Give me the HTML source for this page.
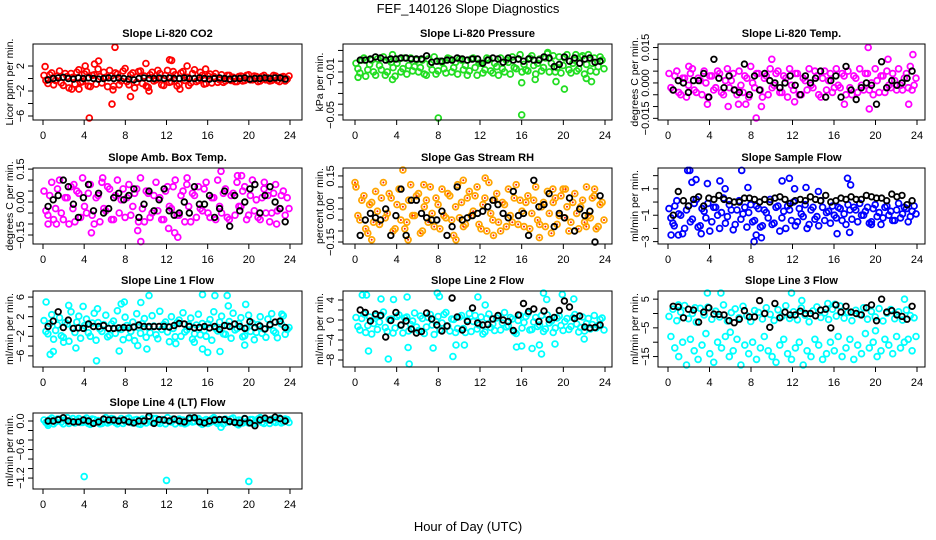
<!DOCTYPE html>
<html><head><meta charset="utf-8"><style>
html,body{margin:0;padding:0;background:#fff;}
svg{display:block;font-family:"Liberation Sans",sans-serif;}
</style></head><body>
<svg id="c" width="936" height="540" viewBox="0 0 936 540" xmlns="http://www.w3.org/2000/svg">
<text x="468" y="13" text-anchor="middle" font-size="13">FEF_140126  Slope Diagnostics</text>
<text x="468" y="531" text-anchor="middle" font-size="13">Hour of Day (UTC)</text>
</svg>
<script>
const xTicks = [0,4,8,12,16,20,24];
const titles = ["Slope Li-820 CO2","Slope Li-820 Pressure","Slope Li-820 Temp.","Slope Amb. Box Temp.","Slope Gas Stream RH","Slope Sample Flow","Slope Line 1 Flow","Slope Line 2 Flow","Slope Line 3 Flow","Slope Line 4 (LT) Flow"];
const yTitles = ["Licor ppm per min.","kPa per min.","degrees C per min.","degrees C per min.","percent per min.","ml/min per min.","ml/min per min.","ml/min per min.","ml/min per min.","ml/min per min."];
const yDomains = [[-6.64,5.52],[-0.0547,0.016],[-0.0157,0.0165],[-0.191,0.155],[-0.159,0.186],[-3.18,2.58],[-8.27,7.24],[-9.4,5.8],[-18.64,7.84],[-1.43,0.168]];
const yTickVals = [[2,0,-2,-4,-6],[0.01,0,-0.01,-0.02,-0.03,-0.04,-0.05],[0.015,0.01,0.005,0,-0.005,-0.01,-0.015],[0.15,0.1,0.05,0,-0.05,-0.1,-0.15],[0.15,0.1,0.05,0,-0.05,-0.1,-0.15],[2,1,0,-1,-2,-3],[6,4,2,0,-2,-4,-6],[4,2,0,-2,-4,-6,-8],[5,0,-5,-10,-15],[0,-0.2,-0.4,-0.6,-0.8,-1.0,-1.2]];
const yTickLabels = [[[2,"2"],[-2,"−2"],[-6,"−6"]],[[-0.01,"−0.01"],[-0.05,"−0.05"]],[[0.015,"0.015"],[0,"0.000"],[-0.015,"−0.015"]],[[0.15,"0.15"],[0,"0.00"],[-0.15,"−0.15"]],[[0.15,"0.15"],[0,"0.00"],[-0.15,"−0.15"]],[[1,"1"],[-1,"−1"],[-3,"−3"]],[[6,"6"],[2,"2"],[-2,"−2"],[-6,"−6"]],[[4,"4"],[0,"0"],[-4,"−4"],[-8,"−8"]],[[5,"5"],[-5,"−5"],[-15,"−15"]],[[0,"0.0"],[-0.6,"−0.6"],[-1.2,"−1.2"]]];
const colors = ["#ff0000","#22dd22","#ff00ff","#ff00ff","#ffa500","#0000ff","#00ffff","#00ffff","#00ffff","#00ffff"];

const bandA = [
[0.5,-0.8,0.9,-0.3,1.2,-1.1,0.3,0.8,-0.9,1.4,-0.5,1.1,-1.3,0.6,1.5,-0.7,0.2,1.3,-1.2,0.7,-0.4,1.6,-1.0,0.9,-0.6,1.2,0.4,-1.4,1.0,-0.2,0.8,-1.1,1.3,-0.5,0.6,-0.9,1.1,0.2,-0.7,1.4,-0.3,0.5,-0.8,0.7,0.3,-0.6,0.6,-0.4,0.5,0.2,-0.5,0.4,-0.3,0.6,-0.2,0.3,-0.4,0.5,0.1,-0.3,0.4,-0.5,0.3,-0.1],
[-0.002,-0.011,0.003,-0.008,0.001,-0.013,-0.004,0.004,-0.010,-0.001,-0.014,0.002,-0.007,-0.012,0.003,-0.005,-0.010,0.001,-0.013,-0.003,0.004,-0.009,-0.001,-0.011,0.002,-0.006,-0.012,0.001,-0.004,-0.009,0.003,-0.013,-0.002,-0.008,0.002,-0.011,-0.005,0.003,-0.010,-0.001,0.004,-0.007,0.006,-0.003,-0.009,0.005,-0.012,0.002,-0.006,0.007,-0.002,-0.010,0.004,-0.004,0.006,-0.011,0.001,-0.007,0.005,-0.003,-0.009,0.003,-0.005,0.001],
[0.004,-0.003,0.005,-0.005,0.002,-0.001,0.006,-0.004,0.001,0.005,-0.006,0.003,-0.002,0.004,-0.005,0.006,0.001,-0.003,0.005,-0.004,0.002,0.007,-0.002,0.004,-0.006,0.003,0.006,-0.001,0.005,-0.004,0.002,0.006,-0.003,0.004,-0.005,0.001,0.006,-0.002,0.003,-0.006,0.005,0.001,-0.004,0.006,-0.002,0.003,0.005,-0.005,0.002,0.006,-0.003,0.004,0.000,0.006,-0.004,0.003,0.005,-0.002,0.001,0.006,-0.003,0.004,0.007,-0.001],
[0.05,-0.06,0.09,-0.03,0.10,-0.08,0.02,0.07,-0.09,0.04,0.11,-0.05,0.08,-0.10,0.03,0.09,-0.04,0.06,-0.08,0.10,0.01,-0.07,0.08,-0.02,0.06,0.11,-0.09,0.04,-0.05,0.09,0.02,-0.08,0.07,-0.03,0.10,-0.06,0.05,0.08,-0.09,0.03,0.07,-0.04,0.09,-0.07,0.02,0.10,-0.05,0.06,-0.08,0.04,0.09,-0.02,0.07,-0.06,0.10,0.01,-0.08,0.06,0.03,-0.05,0.08,-0.03,0.05,0.02],
[0.10,-0.05,0.06,-0.11,0.03,0.08,-0.07,0.12,-0.02,0.05,-0.09,0.09,0.01,-0.06,0.11,-0.03,0.07,-0.10,0.04,0.10,-0.08,0.02,0.09,-0.04,0.06,-0.12,0.11,0.03,-0.07,0.08,-0.01,0.10,-0.09,0.05,0.12,-0.05,0.07,-0.10,0.02,0.09,-0.06,0.11,0.04,-0.08,0.06,-0.02,0.10,-0.07,0.03,0.08,-0.11,0.05,-0.03,0.09,0.01,-0.06,0.07,-0.09,0.04,0.10,-0.04,0.06,-0.08,0.03],
[-0.5,-1.6,0.1,-1.0,-2.0,-0.3,-1.3,0.2,-1.8,-0.7,-0.1,-1.5,-0.4,-2.0,0.3,-1.1,-0.6,-1.7,0.1,-0.9,-1.9,-0.2,-1.4,-0.5,-1.8,-0.8,0.2,-1.6,-0.3,-1.2,-2.0,-0.6,0.0,-1.5,-0.9,-0.2,-1.7,-0.4,-1.1,0.1,-1.4,-0.7,-0.3,-1.2,-0.5,-0.9,-0.2,-1.3,-0.6,-0.1,-1.0,-0.4,-1.5,-0.2,-0.8,-1.2,-0.3,-0.7,-1.4,-0.1,-0.9,-0.5,-1.1,-0.3],
[1.2,-1.5,2.4,-0.8,1.8,-2.2,0.5,3.0,-1.2,2.1,-0.3,1.5,-2.0,2.7,0.8,-1.0,2.3,-1.8,1.1,3.2,-0.6,1.9,-2.3,0.9,2.6,-1.4,1.6,-0.2,2.2,-1.7,3.1,0.4,-1.1,2.0,-2.1,1.3,2.8,-0.7,1.7,-1.5,2.5,0.6,-2.0,1.4,3.0,-0.9,2.1,-1.6,1.0,2.7,-0.4,1.8,-1.9,2.3,0.7,-1.2,2.0,-0.5,1.5,2.6,-1.3,0.9,2.2,-0.6],
[0.5,-2.0,1.2,-1.1,-2.8,0.8,-0.4,1.6,-2.3,0.2,-1.6,1.0,-2.6,0.6,-0.9,1.4,-2.1,0.3,-1.4,1.1,-2.9,0.7,-0.6,1.5,-2.2,0.1,-1.7,0.9,-2.5,1.3,-0.3,-1.8,0.6,-2.4,1.2,-0.8,0.4,-2.0,1.5,-1.2,0.2,-2.7,0.9,-0.5,1.3,-1.9,0.5,-1.0,-2.3,1.0,-0.2,-1.6,0.8,-2.1,0.3,-1.3,1.1,-2.4,0.6,-0.7,-1.8,0.9,-1.1,0.4],
[-1.0,1.5,-2.5,0.5,2.8,-1.8,0.0,-3.0,1.8,-0.5,2.2,-2.0,0.8,-1.2,3.0,-2.6,0.3,1.6,-1.5,2.5,-0.8,-2.8,1.0,0.4,-1.9,2.0,-0.3,-2.4,1.3,-1.0,2.7,-1.7,0.6,-2.2,1.9,-0.6,-2.9,0.9,2.3,-1.4,0.2,-2.1,1.5,-0.9,2.6,-1.6,0.4,-2.5,1.1,-0.4,2.0,-2.0,0.7,-1.2,1.7,-2.6,0.1,1.4,-1.8,0.6,-2.3,1.2,-0.7,-1.5],
[0.02,-0.05,0.06,-0.02,0.04,-0.06,0.07,0.00,-0.04,0.05,-0.03,0.06,-0.07,0.03,0.01,-0.05,0.07,-0.02,0.04,-0.06,0.05,-0.01,0.06,-0.04,0.03,-0.07,0.02,0.06,-0.03,0.05,-0.05,0.01,0.07,-0.02,-0.06,0.04,0.02,-0.04,0.06,-0.01,0.05,-0.07,0.03,-0.03,0.07,-0.05,0.02,0.04,-0.02,0.06,-0.06,0.01,0.05,-0.04,0.03,-0.01,0.07,-0.05,0.02,0.04,-0.03,0.06,-0.02,0.03]
];
const bandB = [
[-0.3,0.6,-1.0,0.4,-0.7,0.8,-1.5,0.2,1.0,-0.6,0.7,-1.2,0.5,-0.9,0.3,1.0,-1.3,0.4,0.9,-1.0,1.2,-0.5,0.6,-1.5,1.1,-0.8,-1.2,0.6,-0.4,1.3,-1.0,0.5,-0.6,1.1,-1.2,0.9,-0.3,-1.1,0.8,-0.5,1.0,-0.9,0.4,-0.7,0.8,-0.2,-0.6,0.5,-0.3,-0.5,0.3,-0.4,0.5,-0.2,0.4,-0.5,0.3,-0.2,-0.4,0.5,-0.3,0.2,-0.4,0.4],
[-0.007,0.001,-0.014,-0.003,-0.010,0.002,-0.008,-0.013,0.001,-0.006,-0.002,-0.010,0.003,-0.004,-0.009,0.001,-0.006,-0.012,0.002,-0.008,-0.012,0.000,-0.007,0.003,-0.010,-0.001,0.002,-0.008,-0.013,0.002,-0.006,-0.002,-0.011,0.003,-0.009,-0.002,-0.013,-0.007,0.001,-0.012,-0.006,0.002,-0.010,-0.008,0.003,-0.004,-0.002,-0.009,0.003,-0.010,0.005,-0.006,-0.011,0.003,-0.008,-0.002,-0.009,0.004,-0.012,0.006,-0.002,-0.010,0.004,-0.007],
[-0.002,0.003,-0.004,0.002,-0.006,0.004,-0.003,0.002,-0.005,0.000,0.003,-0.003,0.005,-0.004,0.001,-0.002,0.004,-0.005,-0.001,0.003,-0.006,0.000,0.004,-0.003,0.002,-0.005,-0.002,0.004,-0.004,0.003,-0.006,-0.001,0.004,-0.005,0.002,-0.003,-0.001,0.005,-0.005,0.002,-0.003,0.004,-0.002,-0.001,0.004,-0.005,-0.002,0.003,-0.004,-0.001,0.004,-0.003,-0.005,0.001,0.003,-0.004,-0.001,0.004,-0.003,-0.001,0.002,-0.002,-0.003,0.002],
[-0.04,0.03,-0.08,0.06,-0.05,0.02,-0.10,-0.03,0.05,-0.07,-0.02,0.04,-0.06,0.02,-0.09,-0.03,0.07,-0.08,0.03,-0.05,0.06,0.02,-0.06,0.04,-0.09,-0.03,0.05,-0.07,0.03,-0.04,-0.08,0.05,-0.02,0.07,-0.06,0.03,-0.09,-0.02,0.04,-0.07,-0.03,0.06,-0.05,0.02,-0.08,-0.02,0.04,-0.07,0.03,-0.06,-0.02,0.05,-0.08,0.03,-0.04,-0.07,0.02,-0.05,-0.09,0.04,-0.04,0.03,-0.06,-0.03],
[-0.03,0.04,-0.09,0.02,-0.06,-0.01,0.05,-0.04,0.07,-0.10,0.02,-0.05,-0.09,0.04,-0.03,0.06,-0.11,0.01,-0.06,-0.02,0.05,-0.09,-0.03,0.07,-0.05,0.01,-0.04,-0.08,0.05,-0.03,0.06,-0.07,0.02,-0.10,-0.02,0.04,-0.06,0.03,-0.08,-0.03,0.05,-0.07,-0.01,0.03,-0.09,0.04,-0.05,0.01,-0.08,-0.02,0.03,-0.07,0.06,-0.04,-0.10,0.03,-0.02,0.01,-0.06,-0.03,0.05,-0.09,0.02,-0.05],
[-1.2,-0.3,-0.9,-2.4,-0.6,-1.5,-0.1,-1.9,-0.5,-1.2,-2.2,-0.4,-1.0,-0.8,-1.6,-0.2,-2.1,-0.6,-1.3,-0.4,-0.8,-1.5,-0.3,-1.9,-0.6,-1.2,-1.7,-0.4,-2.2,-0.7,-0.3,-1.4,-1.8,-0.5,-1.1,-2.0,-0.6,-1.3,-1.8,-0.4,-0.8,-1.6,-1.0,-0.4,-1.4,-1.7,-0.6,-0.4,-1.5,-1.0,-0.7,-1.6,-0.5,-1.1,-1.7,-0.4,-1.0,-1.4,-0.6,-1.2,-0.4,-1.5,-0.7,-0.9],
[-1.0,0.6,-2.6,0.3,-1.9,0.8,-3.0,-0.4,0.9,-2.4,0.2,-1.3,0.7,-2.8,-0.5,0.4,-2.1,0.5,-1.4,-0.3,-2.7,0.2,-1.0,-2.9,-0.2,0.6,-2.2,-1.3,0.1,-2.5,-0.6,0.9,-3.1,-0.4,0.8,-2.0,-1.1,0.4,-2.6,0.3,-1.7,-0.8,0.5,-2.8,-0.4,0.9,-1.5,0.2,-2.4,-0.7,0.6,-2.1,-0.3,-1.0,-2.7,0.4,-1.4,-2.2,0.2,-0.9,-2.3,0.5,-1.6,-0.2],
[-1.3,0.3,-2.5,0.6,-0.7,-1.9,1.0,-1.5,0.1,-2.6,0.7,-1.1,0.4,-2.2,-0.2,-1.4,0.8,-2.7,0.5,-1.0,-0.3,-2.0,1.1,-1.2,0.2,-2.5,0.6,-1.7,0.0,-2.3,0.9,-1.0,-2.8,0.3,-1.5,-2.1,0.8,-0.6,-1.4,0.5,-2.4,-0.1,-1.6,0.7,-2.0,-0.4,-1.3,0.9,-1.8,-0.6,-2.5,0.4,-1.1,-0.3,-1.9,0.5,-0.8,-1.5,-2.2,0.3,-0.9,-1.6,0.1,-2.0],
[-8,-12,-15,-10,-18,-9,-13,-16,-11,-7,-14,-17,-10,-12,-8,-15,-13,-9,-18,-11,-14,-10,-16,-12,-8,-13,-15,-17,-11,-9,-14,-16,-12,-10,-18,-13,-15,-9,-11,-16,-14,-10,-13,-8,-15,-12,-9,-16,-11,-14,-7,-12,-10,-15,-13,-9,-11,-14,-8,-12,-10,-9,-13,-8],
[-0.03,0.03,-0.06,0.04,-0.02,0.02,-0.05,0.05,0.02,-0.03,0.03,-0.05,0.04,-0.02,-0.06,0.03,-0.04,0.05,-0.03,0.01,-0.05,0.04,-0.03,0.02,-0.06,0.04,-0.04,-0.01,0.05,-0.03,0.03,-0.06,-0.01,0.04,0.02,-0.04,-0.06,0.03,-0.02,0.05,-0.04,0.01,-0.05,0.04,-0.02,0.03,-0.06,-0.02,0.04,-0.03,0.02,-0.04,-0.02,0.03,-0.05,0.04,-0.03,0.02,-0.05,-0.01,0.03,-0.04,0.04,-0.03]
];
const outliers = [
[[0.2,1.9],[4.1,2.0],[4.5,-6.6],[5.0,2.3],[5.4,2.8],[6.7,-4.1],[7.0,5.0],[8.5,-2.9],[10.0,2.4],[12.3,3.0],[12.5,2.9],[13.3,-1.7],[14.0,2.0],[15.8,1.5],[2.8,-1.7],[3.5,-1.7],[6.8,-1.8],[10.3,-2.0]],
[[3.6,0.006],[3.6,-0.017],[0.3,-0.015],[8.0,-0.055],[16.0,-0.050],[16.0,-0.020],[20.1,-0.026],[18.5,0.008],[22.2,-0.016],[22.7,-0.019],[21.2,0.006],[17.3,-0.017],[19.3,-0.019]],
[[8.5,-0.015],[19.3,0.015],[2.0,0.007],[5.8,-0.010],[6.8,-0.009],[7.5,-0.009],[17.0,-0.009],[23.2,-0.009],[23.6,0.012],[21.2,0.010],[10.0,0.010],[3.8,-0.009],[12.2,-0.008],[19.4,-0.011],[9.0,-0.010]],
[[4.7,-0.14],[9.2,-0.13],[9.5,-0.18],[12.2,-0.12],[12.8,-0.14],[13.1,-0.16],[17.3,0.14],[18.9,0.12],[19.3,0.12],[5.8,0.11],[0.5,-0.10],[1.3,-0.10],[14.0,0.11],[21.5,0.09],[22.7,-0.10],[3.0,0.08]],
[[0.0,0.12],[4.6,0.18],[12.5,0.14],[1.6,-0.14],[5.1,-0.14],[9.7,-0.14],[13.3,-0.12],[17.7,-0.13],[22.2,-0.08],[10.4,0.13],[6.6,0.11],[19.0,0.09],[20.2,0.09],[23.0,0.09]],
[[0.3,-2.5],[1.0,-2.5],[1.9,2.4],[2.1,2.4],[2.3,1.5],[2.7,1.7],[3.8,1.4],[5.0,1.6],[5.5,1.0],[7.1,2.4],[7.7,1.1],[8.3,-3.0],[8.5,-2.5],[9.0,-2.7],[11.0,1.6],[11.7,1.8],[12.2,1.0],[13.3,1.1],[17.3,1.8],[17.6,1.3],[14.5,0.8],[0.6,-1.8],[3.2,-2.4],[16.3,-2.4],[17.5,-2.3],[19.6,-1.7]],
[[0.3,5.0],[0.7,-5.7],[1.0,-5.1],[2.5,4.3],[3.2,-4.4],[3.9,4.1],[5.2,-7.0],[5.3,3.6],[7.4,-5.0],[7.6,4.6],[7.9,5.0],[9.2,-3.9],[9.5,4.9],[10.3,6.3],[10.1,-4.6],[14.7,-3.2],[15.5,6.5],[15.5,-4.6],[16.0,-5.3],[16.7,6.3],[17.2,-5.1],[17.9,6.3],[18.0,4.2],[19.6,-3.8],[19.7,4.5],[2.0,-3.2],[12.9,-3.5],[23.2,2.5]],
[[0.7,5.0],[1.1,5.0],[1.3,-6.2],[2.5,4.2],[3.2,-7.8],[3.7,4.1],[5.0,4.6],[5.1,-5.5],[5.2,-8.8],[7.5,-5.6],[7.9,5.4],[8.1,4.7],[9.4,-7.3],[9.7,-5.0],[10.5,-5.0],[11.8,4.6],[15.5,-5.4],[16.0,-5.2],[17.0,-5.7],[17.7,-5.0],[17.9,-6.8],[18.1,5.5],[18.4,4.1],[19.2,-4.8],[19.9,5.1],[21.0,4.2],[22.0,-3.8],[12.5,3.0]],
[[3.8,7.8],[5.1,8.2],[11.9,8.8],[1.0,3.0],[2.6,2.0],[12.9,4.5],[15.4,3.5],[22.8,5.0],[6.0,-6.5],[20.0,-6.0],[16.1,3.2]],
[[4.0,-1.17],[12.0,-1.25],[20.0,-1.27],[17.3,-0.13],[19.0,-0.08],[0.5,-0.09]]
];
const blackVals = [
[-0.2,0.0,0.1,0.2,0.0,-0.1,0.1,0.0,0.1,0.0,-0.1,0.0,0.1,0.0,0.1,0.0,-0.1,-0.2,0.0,0.1,0.0,0.0,0.1,0.0,0.1,0.0,0.0,0.1,0.0,0.0,0.1,0.0,-0.1,0.0,0.1,0.0,-0.1,0.0,0.0,0.1,-0.1,0.0,0.0,0.1,0.0,0.1,0.1,-0.1],
[0.001,0.001,0.002,0.004,0.003,0.001,0.002,0.002,0.003,0.003,0.002,0.002,0.002,0.005,-0.001,0.000,0.000,0.001,0.001,0.003,0.002,0.001,0.002,0.002,-0.002,0.001,0.003,0.002,-0.001,0.003,0.001,0.002,0.000,0.002,0.001,0.001,0.004,0.003,-0.005,-0.003,0.004,0.000,0.003,-0.002,0.002,0.003,-0.001,0.000],
[-0.003,0.001,0.000,-0.004,0.001,0.001,0.004,-0.006,0.010,0.002,-0.002,0.003,-0.003,-0.004,0.008,-0.005,0.003,-0.003,0.004,0.001,0.000,-0.002,0.000,0.003,-0.001,-0.005,0.003,0.000,0.002,0.005,-0.006,0.001,0.003,-0.006,0.007,-0.003,-0.007,-0.002,0.000,-0.001,-0.009,0.009,-0.002,0.001,-0.001,0.000,0.002,0.005],
[-0.02,0.01,0.03,0.10,0.07,-0.01,-0.07,0.02,0.08,-0.04,0.04,-0.05,-0.03,0.02,0.04,0.01,0.03,0.06,-0.07,-0.01,0.05,-0.04,0.01,0.06,-0.04,-0.06,-0.05,0.00,-0.05,0.07,-0.01,-0.01,0.03,-0.07,-0.03,0.05,-0.11,0.03,-0.04,0.00,0.06,0.08,-0.05,0.03,0.07,0.00,-0.03,-0.09],
[-0.12,-0.05,-0.02,-0.04,-0.05,0.00,-0.12,-0.03,0.09,-0.12,0.04,0.04,-0.02,-0.04,-0.05,-0.05,-0.01,-0.12,-0.08,0.10,-0.05,-0.04,-0.03,-0.02,-0.01,0.01,0.04,0.02,-0.02,-0.04,0.08,-0.03,-0.02,-0.12,0.13,0.01,0.02,0.07,-0.08,-0.02,-0.04,0.05,-0.10,0.00,-0.03,-0.01,-0.15,0.06],
[-1.0,0.8,0.1,-0.3,0.2,0.4,-0.3,0.3,0.2,0.5,0.2,0.1,0.0,0.0,0.3,0.3,0.2,0.0,0.2,0.0,0.3,0.4,0.2,-0.1,0.1,0.2,0.1,0.4,0.2,0.1,0.5,0.0,0.1,0.3,0.2,0.4,0.2,0.2,0.5,0.4,0.3,0.3,0.1,0.6,0.4,0.5,-0.2,0.1],
[0.0,1.1,3.0,-0.2,1.3,-0.4,-0.3,-0.4,0.5,0.0,0.0,0.2,-0.4,-0.4,-0.3,-0.2,-0.3,-0.1,0.3,0.0,0.0,0.0,0.0,0.0,-0.1,0.2,0.6,0.5,0.0,-0.3,-0.2,0.0,-0.3,0.0,-0.6,0.2,0.0,0.5,0.0,-0.4,1.0,-0.2,0.1,-0.5,0.4,0.9,1.1,-0.2],
[2.0,1.5,-0.2,1.2,0.9,-3.4,-0.1,1.5,-1.0,-0.2,-1.8,-2.6,-2.3,1.4,0.2,-1.0,-2.2,-1.2,4.4,0.6,-2.0,-0.3,2.4,-0.6,-1.0,-0.9,0.2,0.9,0.0,-0.3,-2.1,1.0,3.3,1.7,2.2,-0.3,1.8,0.1,0.5,1.9,3.8,2.6,0.3,0.8,-1.4,-1.6,-1.5,-1.0],
[2.5,2.3,-1.5,1.5,1.2,-3.0,0.5,2.0,-0.2,-0.3,-0.5,-2.5,-3.2,-2.0,1.0,-1.2,-1.2,4.5,0.0,-4.8,3.5,-1.5,0.5,-0.5,-0.5,0.8,0.0,0.0,-0.8,1.2,1.5,-5.0,3.0,0.5,2.5,0.5,0.0,-0.5,2.0,3.0,-2.5,5.0,0.5,1.0,-0.5,-1.0,-2.0,2.5],
[0.0,0.0,0.03,0.07,0.0,-0.02,-0.02,0.02,0.0,-0.05,-0.02,0.04,0.02,0.02,0.0,0.02,-0.02,-0.04,0.0,0.0,0.1,-0.05,0.03,0.02,0.0,0.04,0.0,-0.02,0.06,0.07,-0.02,-0.04,0.0,0.02,0.03,0.03,-0.01,-0.03,-0.04,0.05,-0.04,-0.1,0.02,0.06,0.02,0.08,0.05,0.0]
];

const NS = "http://www.w3.org/2000/svg";
const svg = document.getElementById("c");
const cols = [{l:33,r:302,x0:43,x24:290},{l:343,r:612,x0:355,x24:605},{l:658,r:925,x0:668,x24:917}];
const rows = [{t:44,b:120},{t:168,b:244},{t:291,b:367},{t:413,b:489}];
function mk(tag, attrs, parent){const e=document.createElementNS(NS,tag);for(const k in attrs)e.setAttribute(k,attrs[k]);(parent||svg).appendChild(e);return e;}

for (let p = 0; p < 10; p++) {
  const c = cols[p % 3], r = rows[Math.floor(p / 3)];
  const g = mk("g", {});
  
  
  const xs = h => c.x0 + (h / 24) * (c.x24 - c.x0);
  const [vmin, vmax] = yDomains[p];
  const ys = v => r.b - (v - vmin) / (vmax - vmin) * (r.b - r.t);
  const col = colors[p];
  const pts = mk("g", {fill: "none", stroke: col, "stroke-width": 1.8}, g);
  
  
  const drawPt = (h, v, parent, isBlack) => {
    const y = Math.max(r.t + 2, Math.min(r.b - 2, ys(v)));
    const cc = mk("circle", {cx: xs(h).toFixed(1), cy: y.toFixed(1), r: isBlack ? 2.8 : 2.9}, parent);
    
    
    if (p === 4 && !isBlack) {
      const d = mk("circle", {cx: xs(h).toFixed(1), cy: y.toFixed(1), r: 1, fill: "#ff2200", stroke: "none"}, parent);
      
      
    }
  };
  bandA[p].forEach((v, i) => drawPt(0.1 + i * 0.375, v, pts, false));
  bandB[p].forEach((v, i) => drawPt(0.28 + i * 0.375, v, pts, false));
  outliers[p].forEach(o => drawPt(o[0], o[1], pts, false));
  const bk = mk("g", {fill: "none", stroke: "#000", "stroke-width": 1.8}, g);
  
  
  blackVals[p].forEach((v, i) => drawPt(0.5 + i * 0.49, v, bk, true));
  const box = mk("rect", {x: c.l, y: r.t, width: c.r - c.l, height: r.b - r.t, fill: "none", stroke: "#000", "stroke-width": 1}, g);
  
  
  const tt = mk("text", {x: (c.l + c.r) / 2, y: r.t - 7, "text-anchor": "middle", "font-size": 11, "font-weight": "bold"}, g);
  tt.textContent = titles[p];
  
  
  xTicks.forEach(t => {
    const l = mk("line", {x1: xs(t), x2: xs(t), y1: r.b, y2: r.b + 5, stroke: "#000"}, g);
    
    
    const tx = mk("text", {x: xs(t), y: r.b + 19, "text-anchor": "middle", "font-size": 11}, g);
    tx.textContent = String(t);
    
    
  });
  yTickVals[p].forEach(t => {
    const l = mk("line", {x1: c.l - 5, x2: c.l, y1: ys(t), y2: ys(t), stroke: "#000"}, g);
    
    
  });
  yTickLabels[p].forEach(([v, s]) => {
    const tx = mk("text", {x: 0, y: 0, "text-anchor": "middle", "font-size": 11, transform: `translate(${c.l - 9},${ys(v)}) rotate(-90)`}, g);
    tx.textContent = s;
    
    
  });
  const yt = mk("text", {x: 0, y: 0, "text-anchor": "middle", "font-size": 10.5, transform: `translate(${c.l - 20},${(r.t + r.b) / 2}) rotate(-90)`}, g);
  yt.textContent = yTitles[p];
  
  
}
</script>
</body></html>
